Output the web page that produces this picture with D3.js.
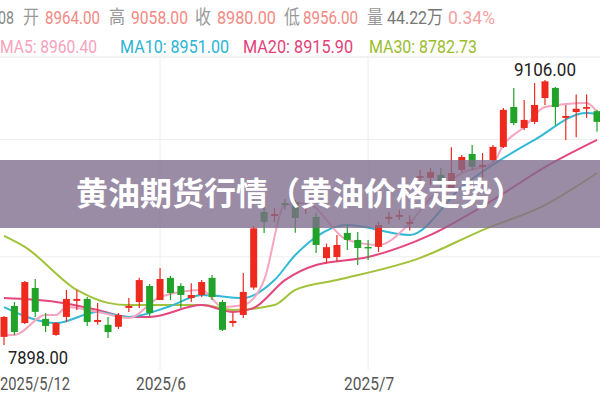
<!DOCTYPE html>
<html><head><meta charset="utf-8">
<script src="https://cdn.jsdelivr.net/npm/d3@7"></script>
<style>body{margin:0;background:#fff}svg{display:block}</style>
</head><body><svg id="c" width="600" height="400"></svg>
<script>
// OHLC candles [open, high, low, close]
const candles = [
[7935,8030,7898,8026],[8076,8094,7944,7957],[7998,8190,7994,8185],[8158,8199,8026,8049],
[8017,8044,7957,7985],[7944,8003,7940,7998],[8026,8149,8003,8108],[8099,8149,8058,8108],
[8108,8117,7985,8003],[8003,8090,7990,8012],[7990,8026,7930,7957],[7981,8044,7971,8035],
[8067,8112,8049,8076],[8094,8204,8067,8194],[8167,8176,8030,8044],[8103,8249,8103,8199],
[8204,8213,8103,8135],[8167,8180,8067,8126],[8112,8180,8094,8126],[8126,8194,8117,8185],
[8204,8217,8103,8117],[8094,8103,7962,7967],[7998,8044,7981,8008],[8035,8226,8021,8140],
[8160,8440,8150,8430],[8504,8527,8409,8459],[8486,8523,8459,8495],[8545,8564,8514,8536],
[8550,8560,8410,8477],[8527,8560,8495,8536],[8482,8500,8317,8354],[8294,8360,8270,8344],
[8299,8400,8280,8354],[8409,8445,8331,8377],[8377,8413,8263,8340],[8345,8377,8286,8340],
[8345,8459,8322,8445],[8473,8504,8450,8482],[8482,8514,8468,8491],[8450,8490,8420,8459],
[8660,8696,8628,8668],[8660,8705,8628,8687],[8673,8705,8605,8641],[8614,8800,8605,8682],
[8696,8764,8687,8755],[8769,8810,8696,8710],[8710,8773,8660,8719],[8741,8810,8732,8801],
[8801,8978,8796,8970],[8983,9070,8900,8910],[8887,9015,8878,8924],[8915,9092,8905,8992],
[9024,9106,8992,9100],[9070,9074,8900,8983],[8933,8992,8833,8942],[8960,9040,8845,8975],
[8975,9040,8933,8983],[8964,8970,8870,8915]];
// moving averages: [candle index, value]
const ma5 = [[0,7944],[1,7944],[4,8035],[5,8035],[6,8071],[9,8049],[12,8021],[15,8117],[19,8149],[21,8071],[23,8080],[25,8194],[27,8536],[29,8545],[33,8377],[36,8354],[39,8454],[41,8568],[44,8682],[47,8728],[48,8810],[50,8892],[52,8983],[56,9001],[57,8960]];
const ma10 = [[0,8071],[5,7998],[9,8049],[12,8026],[16,8076],[19,8126],[23,8112],[26,8194],[28,8308],[33,8445],[39,8400],[44,8618],[51,8833],[56,8956],[57,8951]];
const ma20 = [[0,8112],[5,8094],[9,8058],[12,8026],[14,8026],[19,8080],[22,8049],[24,8067],[27,8194],[30,8263],[35,8299],[41,8400],[47,8559],[52,8709],[57,8833]];
const ma30 = [[0,8395],[2,8345],[7,8149],[10,8090],[12,8080],[19,8080],[22,8058],[26,8080],[28,8149],[32,8194],[40,8295],[46,8422],[52,8536],[57,8682]];
const xTicks = [[3,"2025/5/12"],[15,"2025/6"],[35,"2025/7"]];
const maxLabel = "9106.00", minLabel = "7898.00";
const header1 = [["08","#888"],["开","#999"],["8964.00","#f28a84"],["高","#999"],["9058.00","#f28a84"],["收","#999"],["8980.00","#f28a84"],["低","#999"],["8956.00","#f28a84"],["量","#999"],["44.22万","#777"],["0.34%","#f4a0a0"]];
const header1X = [-2,23,45,109,131,195,217,284,303,367,387,448];
const header1W = [16,16,55,16,57,16,59,16,55,16,56,47];
const header2 = [["MA5: 8960.40","#f7a2bd"],["MA10: 8951.00","#2bb4d4"],["MA20: 8915.90","#e23f78"],["MA30: 8782.73","#9bbd2c"]];
const header2X = [0,120,243,369];
const header2W = [97,109,110,108];
const title = "黄油期货行情（黄油价格走势）";

const svg = d3.select("#c");
const x = d3.scaleLinear().domain([0,57]).range([4,597]);
const y = d3.scaleLinear().domain([7898,9106]).range([345,80]);
const F = "'Roboto','Noto Sans CJK SC',sans-serif";

// grid
svg.append("line").attr("x1",0).attr("x2",600).attr("y1",57).attr("y2",57).attr("stroke","#e6e6e6");
[8835,8300].forEach(v=>svg.append("line").attr("x1",0).attr("x2",600).attr("y1",y(v)).attr("y2",y(v)).attr("stroke","#eee"));
xTicks.slice(1).forEach(t=>svg.append("line").attr("x1",x(t[0])).attr("x2",x(t[0])).attr("y1",57).attr("y2",370).attr("stroke","#eee"));

// MA lines
const line = d3.line().x(d=>x(d[0])).y(d=>y(d[1])).curve(d3.curveMonotoneX);
[[ma30,"#a2c23a"],[ma20,"#e4477e"],[ma10,"#33b9d6"],[ma5,"#f6a5bf"]].forEach(([d,c])=>
  svg.append("path").attr("d",line(d)).attr("fill","none").attr("stroke",c).attr("stroke-width",2));

// candles
const g = svg.append("g");
candles.forEach((d,i)=>{
  const [o,h,l,c]=d, up=c>=o, col=up?"#ee2a1f":"#21a329";
  g.append("line").attr("x1",x(i)).attr("x2",x(i)).attr("y1",y(h)).attr("y2",y(l)).attr("stroke",col).attr("stroke-width",1.2);
  const top=y(Math.max(o,c)), bot=y(Math.min(o,c));
  g.append("rect").attr("x",x(i)-3.5).attr("width",7).attr("y",top).attr("height",Math.max(1.5,bot-top)).attr("fill",col);
});

// labels
const T=(s,xx,yy,w,col,size)=>svg.append("text").attr("x",xx).attr("y",yy).text(s).attr("font-family",F).attr("font-size",size||18)
  .attr("fill",col).attr("textLength",w).attr("lengthAdjust","spacingAndGlyphs");
T(maxLabel,x(52)-31,y(9106)-4,62,"#222");
T(minLabel,8,364,60,"#222");
T(xTicks[0][1],0,390,70,"#555");
T(xTicks[1][1],x(xTicks[1][0])-24,390,50,"#555");
T(xTicks[2][1],x(xTicks[2][0])-24,390,50,"#555");

header1.forEach((h,k)=>T(h[0],header1X[k],24,header1W[k],h[1],19));
header2.forEach((h,k)=>T(h[0],header2X[k],53,header2W[k],h[1],19));

// title band
svg.append("rect").attr("x",0).attr("y",160).attr("width",600).attr("height",68).attr("fill","#7f6c8c").attr("opacity",0.78);
svg.append("text").attr("x",300).attr("y",205).attr("text-anchor","middle").text(title)
  .attr("font-family","'Noto Sans CJK SC',sans-serif").attr("font-weight","bold").attr("font-size",32).attr("fill","#fff");
</script></body></html>
